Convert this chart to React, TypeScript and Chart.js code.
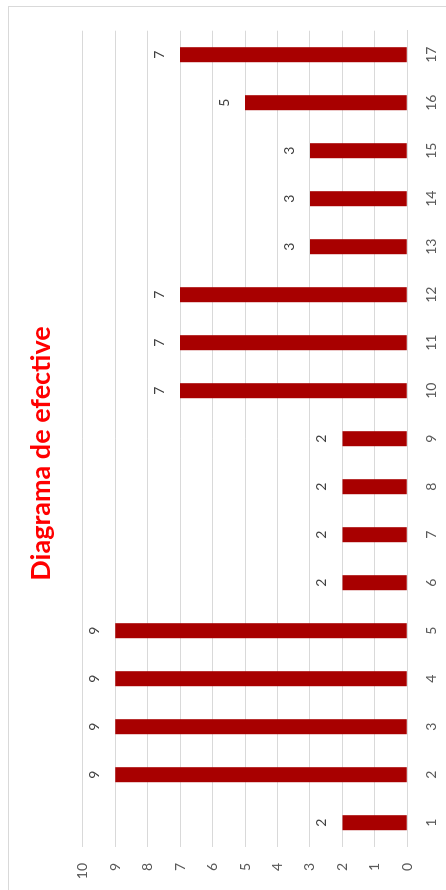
import React, { useEffect, useRef } from "react";
import { Chart, registerables } from "chart.js";

Chart.register(...registerables);

const categories = ["1", "2", "3", "4", "5", "6", "7", "8", "9", "10", "11", "12", "13", "14", "15", "16", "17"];
const values = [2, 9, 9, 9, 9, 2, 2, 2, 2, 7, 7, 7, 3, 3, 3, 5, 7];
const valueMin = 0;
const valueMax = 10;
const valueStep = 1;
const chartTitle = "Diagrama de efective";

const W = 890;
const H = 446;
const FONT = "Lato, 'Open Sans', sans-serif";

const titlePlugin = {
  id: "customTitle",
  afterDraw(chart: any) {
    const ctx = chart.ctx;
    ctx.save();
    ctx.font = `bold 27px ${FONT}`;
    ctx.fillStyle = "#FF0000";
    ctx.textAlign = "center";
    ctx.textBaseline = "alphabetic";
    ctx.fillText(chartTitle, 436.5, 50);
    ctx.restore();
  },
};

const dataLabelPlugin = {
  id: "dataLabels",
  afterDatasetsDraw(chart: any) {
    const ctx = chart.ctx;
    const meta = chart.getDatasetMeta(0);
    ctx.save();
    ctx.font = `14px ${FONT}`;
    ctx.fillStyle = "#404040";
    ctx.textAlign = "center";
    ctx.textBaseline = "middle";
    meta.data.forEach((bar: any, i: number) => {
      ctx.fillText(String(values[i]), bar.x, bar.y - 20.5);
    });
    ctx.restore();
  },
};

export default function App() {
  const ref = useRef<HTMLCanvasElement | null>(null);

  useEffect(() => {
    if (!ref.current) return;
    const chart = new Chart(ref.current, {
      type: "bar",
      data: {
        labels: categories,
        datasets: [
          {
            data: values,
            backgroundColor: "#A80000",
            borderWidth: 0,
            categoryPercentage: 1,
            barPercentage: 0.313,
          },
        ],
      },
      options: {
        animation: false,
        responsive: false,
        devicePixelRatio: 1,
        layout: { padding: { left: 0, right: 30.7, top: 82.7, bottom: 0 } },
        plugins: {
          legend: { display: false },
          tooltip: { enabled: false },
          title: { display: false },
        },
        scales: {
          x: {
            type: "category",
            grid: { display: false, drawTicks: false },
            border: { display: true, color: "#D9D9D9" },
            ticks: {
              color: "#595959",
              font: { family: FONT, size: 14 },
              padding: 16,
              maxRotation: 0,
              autoSkip: false,
            },
            afterFit: (s: any) => {
              s.height = 38.7;
            },
          },
          y: {
            min: valueMin,
            max: valueMax,
            grid: { color: "#D9D9D9", drawTicks: false, lineWidth: 1 },
            border: { display: false },
            ticks: {
              stepSize: valueStep,
              color: "#595959",
              font: { family: FONT, size: 14 },
              padding: 16.3,
            },
            afterFit: (s: any) => {
              s.width = 43.3;
            },
          },
        },
      },
      plugins: [titlePlugin, dataLabelPlugin],
    });
    return () => chart.destroy();
  }, []);

  return (
    <div
      style={{
        position: "fixed",
        left: 0,
        top: 0,
        width: W,
        height: H,
        overflow: "hidden",
        background: "#FFFFFF",
        transformOrigin: "top left",
        transform: `rotate(-90deg) translateX(-${W}px)`,
      }}
    >
      <div
        style={{
          position: "absolute",
          left: -20,
          top: 8,
          width: 904,
          height: 600,
          boxSizing: "border-box",
          border: "1px solid #D9D9D9",
        }}
      />
      <canvas
        ref={ref}
        width={W}
        height={H}
        style={{ position: "absolute", left: 0, top: 0, width: W, height: H }}
      />
    </div>
  );
}
